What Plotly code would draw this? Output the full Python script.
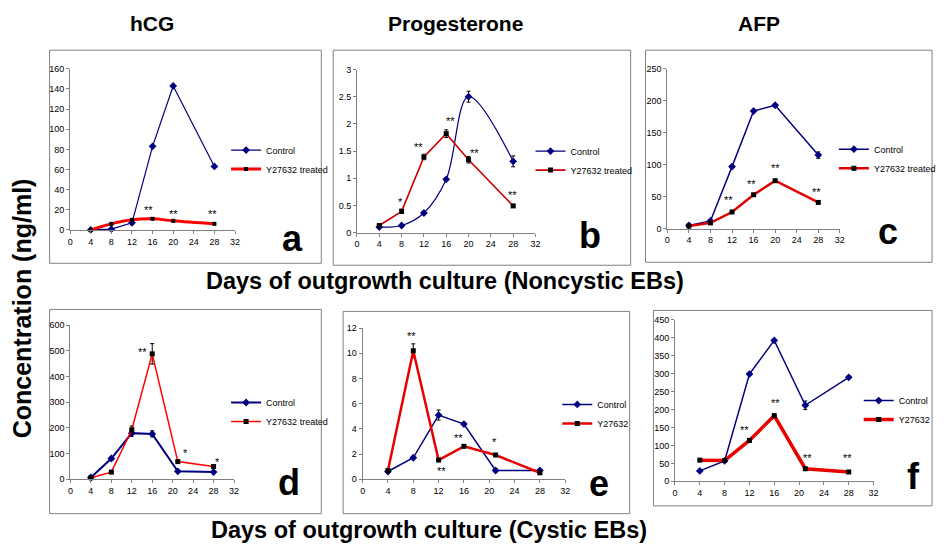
import plotly.graph_objects as go

W, H = 946, 557

# ---------------- data ----------------
days_noncystic = [4, 8, 12, 16, 20, 28]
days_cystic = [4, 8, 12, 16, 21, 28]
x_ticks = [0, 4, 8, 12, 16, 20, 24, 28, 32]

hormones = ["hCG", "Progesterone", "AFP"]
panel_letters = ["a", "b", "c", "d", "e", "f"]
series_names_nc = ["Control", "Y27632 treated"]
series_names_c = [["Control", "Y27632 treated"], ["Control", "Y27632"], ["Control", "Y27632"]]

hcg_nc_control = [0, 0.7, 7, 83, 143, 63]
hcg_nc_treated = [0, 6, 10, 11, 9, 6]
prog_nc_control = [0.1, 0.13, 0.36, 0.98, 2.5, 1.31]
prog_nc_control_err = [0, 0, 0, 0, 0.1, 0.1]
prog_nc_treated = [0.13, 0.39, 1.39, 1.82, 1.34, 0.49]
prog_nc_treated_err = [0.02, 0.04, 0.05, 0.07, 0.06, 0.02]
afp_nc_control = [5, 12, 97, 184, 193, 115]
afp_nc_control_err = [0, 0, 0, 0, 0, 5]
afp_nc_treated = [4, 9, 26, 53, 75, 41]

hcg_c_control = [6, 80, 179, 176, 30, 27]
hcg_c_control_err = [0, 6, 12, 12, 0, 0]
hcg_c_treated = [5, 27, 192, 488, 68, 49]
hcg_c_treated_err = [0, 0, 15, 40, 0, 0]
prog_c_control = [0.62, 1.71, 5.1, 4.38, 0.7, 0.7]
prog_c_control_err = [0, 0, 0.4, 0, 0, 0]
prog_c_treated = [0.7, 10.2, 1.53, 2.62, 1.93, 0.52]
prog_c_treated_err = [0, 0.55, 0, 0, 0, 0]
afp_c_control = [29, 57, 299, 393, 212, 290]
afp_c_control_err = [0, 0, 0, 0, 12, 0]
afp_c_treated = [59, 58, 114, 183, 35, 26]

y_max = [160, 3, 250, 600, 12, 450]
y_step = [20, 0.5, 50, 100, 2, 50]

# significance marks: (day, value where the stars sit, label)
sig_a = [(15.3, 20, "**"), (20.0, 16, "**"), (27.6, 16, "**")]
sig_b = [(7.8, 0.56, "*"), (11.1, 1.57, "**"), (16.7, 2.06, "**"), (21.0, 1.47, "**"), (27.8, 0.69, "**")]
sig_c = [(11.3, 45, "**"), (15.6, 70, "**"), (20.0, 95, "**"), (27.6, 58, "**")]
sig_d = [(14.0, 495, "**"), (22.6, 100, "*"), (28.8, 68, "*")]
sig_e = [(7.7, 11.4, "**"), (12.5, 0.7, "**"), (15.1, 3.3, "**"), (20.9, 2.96, "*")]
sig_f = [(11.2, 143, "**"), (16.2, 219, "**"), (21.3, 64, "**"), (27.8, 64, "**")]

# --------------- layout geometry (pixels) ---------------
plot_px = [  # x0, x1, ytop, ybottom of plotting area
    (67.7, 234, 65, 229),
    (357, 537, 65.7, 231.7),
    (670, 844, 65, 227.7),
    (68, 233, 326, 482.7),
    (362.7, 567, 329, 483),
    (677.7, 878, 320.7, 485),
]
box_px = [
    (47, 321, 46, 263),
    (333, 633, 46, 265),
    (648, 937, 46, 262),
    (47, 321, 310, 518),
    (343, 632, 312, 518),
    (656, 937, 311, 510),
]
legend_px = [(267, 144), (574, 145), (880, 143), (267, 401), (601, 403), (905, 399)]
letter_px = [(292, 238), (592, 235), (893, 231), (288, 486), (601, 487), (918, 480)]

NAVY = "#000080"
REDS = ["#ff0000", "#c80000", "#e00000", "#ff0000", "#e80000", "#e80000"]
ctrl_w = [1.2, 1.2, 1.5, 2.0, 1.5, 1.5]
trt_w = [3.0, 1.6, 2.5, 1.5, 2.5, 3.5]
trt_shape = ["spline", "linear", "linear", "linear", "linear", "linear"]
ctrl_shape = ["linear", "spline", "linear", "linear", "linear", "linear"]

NARROW = "Liberation Sans Narrow, Arial Narrow, Liberation Sans, Arial"
SANS = "Liberation Sans, Arial"

panels = [
    (days_noncystic, hcg_nc_control, None, hcg_nc_treated, None, series_names_nc, sig_a),
    (days_noncystic, prog_nc_control, prog_nc_control_err, prog_nc_treated, prog_nc_treated_err, series_names_nc, sig_b),
    (days_noncystic, afp_nc_control, afp_nc_control_err, afp_nc_treated, None, series_names_nc, sig_c),
    (days_cystic, hcg_c_control, hcg_c_control_err, hcg_c_treated, hcg_c_treated_err, series_names_c[0], sig_d),
    (days_cystic, prog_c_control, prog_c_control_err, prog_c_treated, prog_c_treated_err, series_names_c[1], sig_e),
    (days_cystic, afp_c_control, afp_c_control_err, afp_c_treated, None, series_names_c[2], sig_f),
]

fig = go.Figure()
layout = dict(
    width=W, height=H,
    margin=dict(l=0, r=0, t=0, b=0),
    paper_bgcolor="white", plot_bgcolor="rgba(0,0,0,0)",
    showlegend=True,
    font=dict(family=NARROW, size=9, color="black"),
)
annotations = []
shapes = []


def err(arr):
    if arr is None:
        return None
    return dict(type="data", array=arr, visible=True, color="black", thickness=1, width=2)


for i, (days, ctrl, ctrl_e, trt, trt_e, names, sigs) in enumerate(panels):
    n = i + 1
    xa = "x" if n == 1 else f"x{n}"
    ya = "y" if n == 1 else f"y{n}"
    lg = "legend" if n == 1 else f"legend{n}"
    fig.add_trace(go.Scatter(
        x=days, y=ctrl, name=names[0], mode="lines+markers",
        line=dict(color=NAVY, width=ctrl_w[i], shape=ctrl_shape[i]),
        marker=dict(symbol="diamond", size=6, color=NAVY),
        error_y=err(ctrl_e), xaxis=xa, yaxis=ya, legend=lg, cliponaxis=False,
    ))
    fig.add_trace(go.Scatter(
        x=days, y=trt, name=names[1], mode="lines+markers",
        line=dict(color=REDS[i], width=trt_w[i], shape=trt_shape[i]),
        marker=dict(symbol="square", size=5 if i else 4, color="black"),
        error_y=err(trt_e), xaxis=xa, yaxis=ya, legend=lg, cliponaxis=False,
    ))
    x0, x1, yt, yb = plot_px[i]
    axis_common = dict(
        showgrid=False, zeroline=False, showline=True, linecolor="#808080",
        linewidth=1, ticks="outside", ticklen=3, tickcolor="#808080",
        tickfont=dict(family=NARROW, size=9, color="black"),
    )
    layout["xaxis" if n == 1 else f"xaxis{n}"] = dict(
        domain=[x0 / W, x1 / W], range=[0, 32], tickvals=x_ticks,
        anchor=ya, **axis_common)
    layout["yaxis" if n == 1 else f"yaxis{n}"] = dict(
        domain=[1 - yb / H, 1 - yt / H], range=[0, y_max[i]], dtick=y_step[i], tick0=0,
        anchor=xa, **axis_common)
    lx, ly = legend_px[i]
    layout[lg] = dict(
        x=(lx - 42) / W, y=1 - (ly - 11) / H, xanchor="left", yanchor="top",
        bgcolor="rgba(0,0,0,0)", borderwidth=0, itemwidth=30,
        font=dict(family=NARROW, size=9, color="black"), tracegroupgap=0,
    )
    for d, v, lab in sigs:
        annotations.append(dict(x=d, y=v, xref=xa, yref=ya, text=lab, showarrow=False,
                                font=dict(family=SANS, size=11, color="black"),
                                xanchor="center", yanchor="middle"))
    bx0, bx1, by0, by1 = box_px[i]
    shapes.append(dict(type="rect", xref="paper", yref="paper",
                       x0=bx0 / W, x1=bx1 / W, y0=1 - by1 / H, y1=1 - by0 / H,
                       line=dict(color="#808080", width=1), layer="below"))
    px_, py_ = letter_px[i]
    annotations.append(dict(x=px_ / W, y=1 - py_ / H, xref="paper", yref="paper",
                            text=f"<b>{panel_letters[i]}</b>", showarrow=False,
                            font=dict(family=SANS, size=36, color="black"),
                            xanchor="center", yanchor="middle"))

# column titles
for t, cx in zip(hormones, [150, 456, 762]):
    annotations.append(dict(x=cx / W, y=1 - 19 / H, xref="paper", yref="paper",
                            text=f"<b>{t}</b>", showarrow=False,
                            font=dict(family=NARROW, size=21, color="black"),
                            xanchor="center", yanchor="middle"))
annotations.append(dict(x=446 / W, y=1 - 281 / H, xref="paper", yref="paper",
                        text="<b>Days of outgrowth culture (Noncystic EBs)</b>", showarrow=False,
                        font=dict(family=NARROW, size=23.5, color="black"),
                        xanchor="center", yanchor="middle"))
annotations.append(dict(x=430 / W, y=1 - 535 / H, xref="paper", yref="paper",
                        text="<b>Days of outgrowth culture (Cystic EBs)</b>", showarrow=False,
                        font=dict(family=NARROW, size=23.5, color="black"),
                        xanchor="center", yanchor="middle"))
annotations.append(dict(x=20 / W, y=1 - 309 / H, xref="paper", yref="paper",
                        text="<b>Concentration (ng/ml)</b>", showarrow=False, textangle=-90,
                        font=dict(family=SANS, size=25, color="black"),
                        xanchor="center", yanchor="middle"))

layout["annotations"] = annotations
layout["shapes"] = shapes
fig.update_layout(**layout)
fig.write_html("out.html",
               config={"displayModeBar": False, "staticPlot": True},
               post_script="document.body.style.margin='0';document.body.style.overflow='hidden';")
